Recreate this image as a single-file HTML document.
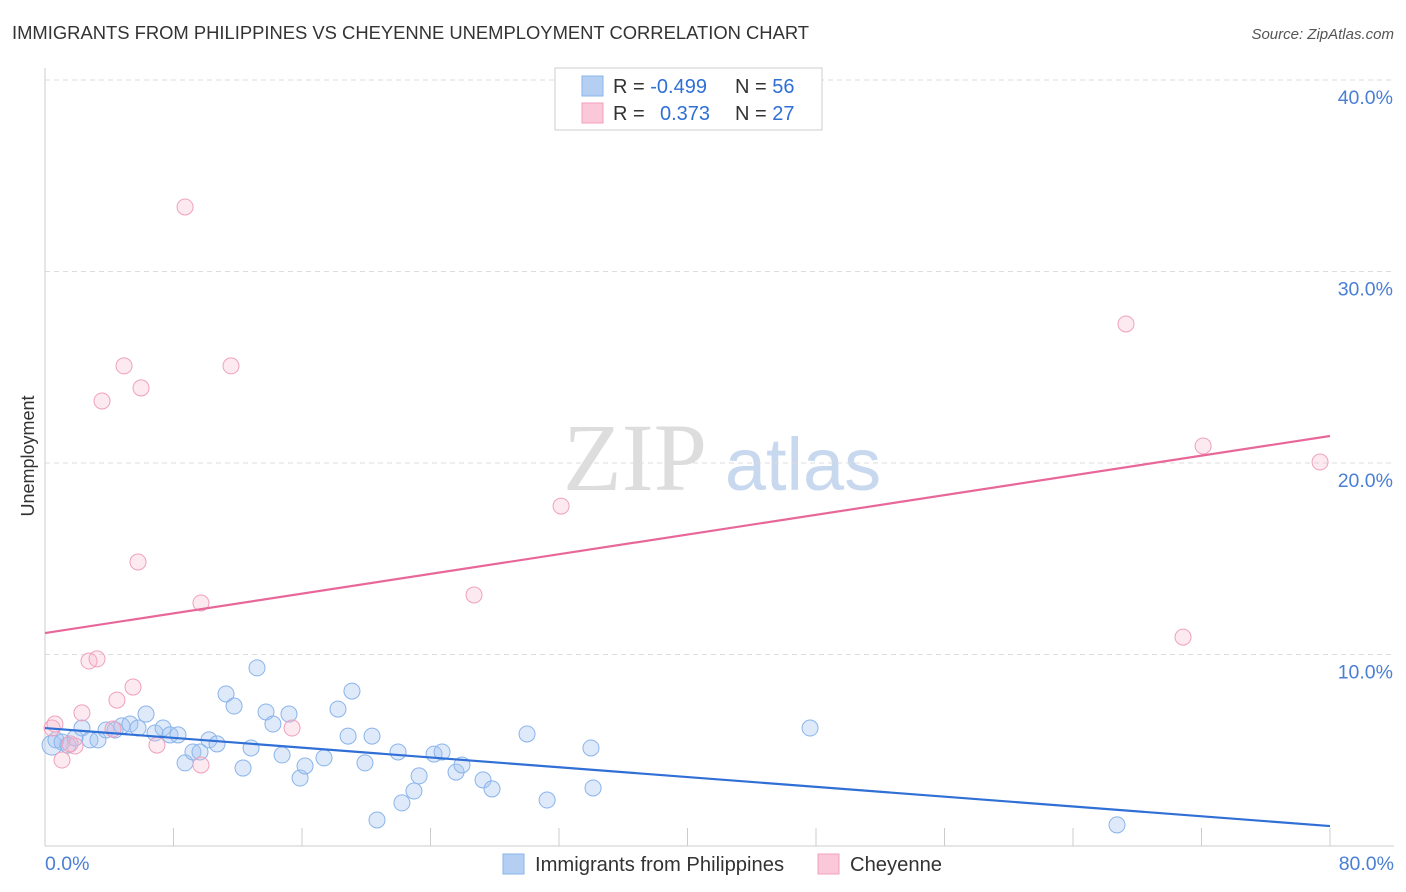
<!DOCTYPE html>
<html><head><meta charset="utf-8"><style>
body{margin:0;background:#fff;font-family:"Liberation Sans",sans-serif;}
svg{display:block}
</style></head><body>
<svg id="chart" width="1406" height="892">
<text x="12" y="39" font-size="18.4" fill="#333">IMMIGRANTS FROM PHILIPPINES VS CHEYENNE UNEMPLOYMENT CORRELATION CHART</text>
<text x="1394" y="39" font-size="15" fill="#555" font-style="italic" text-anchor="end">Source: ZipAtlas.com</text>
<text x="34" y="456" font-size="18" fill="#333" text-anchor="middle" transform="rotate(-90 34 456)">Unemployment</text>
<g><text x="635" y="490" font-size="96" fill="#ddd" font-family="Liberation Serif,serif" text-anchor="middle">ZIP</text><text x="803" y="490" font-size="74" fill="#c8d8ee" text-anchor="middle">atlas</text></g>
<g id="grid"></g><g id="axes"></g><g id="pts"></g><g id="lines"></g>
<g>
<rect x="555" y="68" width="267" height="62" fill="#fff" stroke="#ccc"/>
<rect x="582" y="76" width="21" height="20" fill="#b5cff2" stroke="#8ab4ea"/>
<rect x="582" y="103" width="21" height="20" fill="#fac8d8" stroke="#f0a0bc"/>
<text x="613" y="93" font-size="20" fill="#333">R = <tspan fill="#2f6fd6">-0.499</tspan></text>
<text x="735" y="93" font-size="20" fill="#333">N = <tspan fill="#2f6fd6">56</tspan></text>
<text x="613" y="120" font-size="20" fill="#333">R = <tspan fill="#2f6fd6" x="660">0.373</tspan></text>
<text x="735" y="120" font-size="20" fill="#333">N = <tspan fill="#2f6fd6">27</tspan></text>
</g>
<g>
<rect x="503" y="854" width="21" height="20" fill="#b5cff2" stroke="#8ab4ea"/>
<text x="535" y="871" font-size="20.2" fill="#333">Immigrants from Philippines</text>
<rect x="818" y="854" width="21" height="20" fill="#fac8d8" stroke="#f0a0bc"/>
<text x="850" y="871" font-size="20.2" fill="#333">Cheyenne</text>
</g>
</svg>
<script>
const blueX=[0.44,0.68,1.06,1.43,1.87,2.30,2.80,3.30,3.80,4.36,4.79,5.29,5.79,6.29,6.85,7.35,7.78,8.28,8.72,9.21,9.65,10.21,10.71,11.27,11.77,12.33,12.83,13.20,13.76,14.19,14.76,15.19,15.88,16.19,17.37,18.24,18.87,19.11,19.92,20.36,20.67,21.98,22.22,22.97,23.29,24.22,24.72,25.59,25.96,27.27,27.83,30.01,31.26,33.99,34.12,47.63,66.74];
const blueY=[5.27,5.54,5.43,5.27,5.64,6.16,5.54,5.54,6.06,6.06,6.27,6.37,6.16,6.89,5.90,6.16,5.80,5.80,4.34,4.91,4.91,5.54,5.33,7.94,7.31,4.07,5.12,9.30,7.00,6.37,4.75,6.89,3.55,4.18,4.60,7.15,5.74,8.09,4.34,5.74,1.36,4.91,2.25,2.87,3.66,4.80,4.91,3.86,4.23,3.45,2.98,5.85,2.40,5.12,3.03,6.16,1.10];
const pinkX=[0.44,0.62,1.06,1.87,2.30,2.74,3.24,3.55,4.48,4.92,5.48,5.79,5.98,6.97,8.72,9.71,9.71,11.58,15.38,26.71,32.13,67.30,70.85,72.10,79.38,4.23,1.56];
const pinkY=[6.16,6.37,4.49,5.22,6.95,9.66,9.77,23.24,7.62,25.07,8.30,14.83,23.92,5.27,33.37,12.69,4.23,25.07,6.16,13.11,17.75,27.26,10.91,20.89,20.05,6.11,5.33];
const blueTrend=[6.16,1.04];
const pinkTrend=[11.12,21.41];
const yTicks=[10,20,30,40];
const xTickLabels=["0.0%","80.0%"];
const NS="http://www.w3.org/2000/svg";
const sx=v=>45+v/80*1285, sy=v=>846-v*19.15;
function mk(t,a,p){const e=document.createElementNS(NS,t);for(const k in a)e.setAttribute(k,a[k]);document.getElementById(p).appendChild(e);return e;}
yTicks.forEach(v=>{
 const g=mk('line',{x1:45,x2:1394,y1:sy(v),y2:sy(v),stroke:'#ddd','stroke-dasharray':'5,4'},'grid');
 
 
 const t=mk('text',{x:1393,y:sy(v)+24,'font-size':19.5,fill:'#4a7fd4','text-anchor':'end'},'axes');t.textContent=v.toFixed(1)+'%';
 
 
});
mk('line',{x1:45,x2:45,y1:68,y2:846,stroke:'#ccc'},'axes');
mk('line',{x1:45,x2:1394,y1:846,y2:846,stroke:'#ccc'},'axes');
for(let i=0;i<=10;i++){const x=sx(i*8);mk('line',{x1:x,x2:x,y1:828,y2:846,stroke:'#ccc'},'axes');}
[[0,'start',45],[80,'end',1394]].forEach((d,i)=>{const t=mk('text',{x:d[2],y:870,'font-size':19.5,fill:'#4a7fd4','text-anchor':d[1]},'axes');t.textContent=xTickLabels[i];
 
 });
blueX.forEach((x,i)=>{const c=mk('circle',{cx:sx(x),cy:sy(blueY[i]),r:i==0?10:8,fill:'rgba(160,195,240,0.35)',stroke:'#8ab4ea','stroke-width':1},'pts');
 
 });
pinkX.forEach((x,i)=>{const c=mk('circle',{cx:sx(x),cy:sy(pinkY[i]),r:8,fill:'rgba(248,185,205,0.3)',stroke:'#f0a0bc','stroke-width':1},'pts');
 
 });
const bl=mk('line',{x1:sx(0),y1:sy(blueTrend[0]),x2:sx(80),y2:sy(blueTrend[1]),stroke:'#2f6fd6','stroke-width':2.2},'lines');


const pl=mk('line',{x1:sx(0),y1:sy(pinkTrend[0]),x2:sx(80),y2:sy(pinkTrend[1]),stroke:'#e8679a','stroke-width':2.2},'lines');


</script>
</body></html>
